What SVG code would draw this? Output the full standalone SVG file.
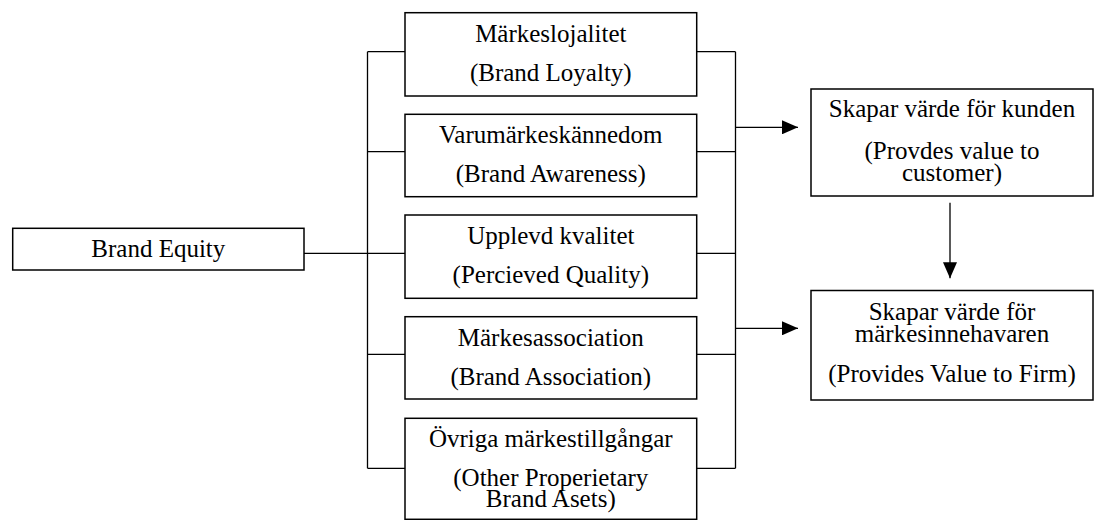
<svg xmlns="http://www.w3.org/2000/svg" width="1094" height="520" viewBox="0 0 1094 520">
  <defs>
    <style>
      .box { fill: #ffffff; stroke: #000000; stroke-width: 1.5; }
      .line { fill: none; stroke: #000000; stroke-width: 1.3; }
      .lbl { font-family: "Liberation Serif", "Times New Roman", serif; font-size: 25px; fill: #000000; text-anchor: middle; }
    </style>
    <marker id="arrow" viewBox="0 0 16 14" refX="16" refY="7" markerWidth="16" markerHeight="14" markerUnits="userSpaceOnUse" orient="auto">
      <path d="M0,0 L16,7 L0,14 Z" fill="#000000"/>
    </marker>
  </defs>
  <rect width="1094" height="520" fill="#ffffff"/>

  <!-- connectors -->
  <g id="connectors">
    <!-- root to left bracket -->
    <line class="line" x1="304" y1="253.3" x2="405" y2="253.3"/>
    <!-- left bracket -->
    <line class="line" x1="367.5" y1="51.7" x2="367.5" y2="468.3"/>
    <line class="line" x1="367.5" y1="51.7" x2="405" y2="51.7"/>
    <line class="line" x1="367.5" y1="151.7" x2="405" y2="151.7"/>
    <line class="line" x1="367.5" y1="354.3" x2="405" y2="354.3"/>
    <line class="line" x1="367.5" y1="468.3" x2="405" y2="468.3"/>
    <!-- right bracket -->
    <line class="line" x1="735.5" y1="51.7" x2="735.5" y2="468.3"/>
    <line class="line" x1="696.7" y1="51.7" x2="735.5" y2="51.7"/>
    <line class="line" x1="696.7" y1="151.7" x2="735.5" y2="151.7"/>
    <line class="line" x1="696.7" y1="253.3" x2="735.5" y2="253.3"/>
    <line class="line" x1="696.7" y1="354.3" x2="735.5" y2="354.3"/>
    <line class="line" x1="696.7" y1="468.3" x2="735.5" y2="468.3"/>
    <!-- arrows to value boxes -->
    <line class="line" x1="735.5" y1="127.3" x2="798" y2="127.3" marker-end="url(#arrow)"/>
    <line class="line" x1="735.5" y1="328.3" x2="798" y2="328.3" marker-end="url(#arrow)"/>
    <line class="line" x1="950" y1="202.7" x2="950" y2="278.3" marker-end="url(#arrow)"/>
  </g>

  <g id="brand-equity">
    <rect class="box" x="12.7" y="228.3" width="291.3" height="41.7"/>
    <text class="lbl" x="158.3" y="256.7">Brand Equity</text>
  </g>

  <g id="loyalty">
    <rect class="box" x="405" y="12.7" width="291.7" height="83.3"/>
    <text class="lbl" x="550.8" y="41.7">Märkeslojalitet</text>
    <text class="lbl" x="550.8" y="80.7">(Brand Loyalty)</text>
  </g>

  <g id="awareness">
    <rect class="box" x="405" y="114.3" width="291.7" height="82.4"/>
    <text class="lbl" x="550.8" y="143.3">Varumärkeskännedom</text>
    <text class="lbl" x="550.8" y="182.3">(Brand Awareness)</text>
  </g>

  <g id="quality">
    <rect class="box" x="405" y="215" width="291.7" height="83.3"/>
    <text class="lbl" x="550.8" y="244">Upplevd kvalitet</text>
    <text class="lbl" x="550.8" y="283">(Percieved Quality)</text>
  </g>

  <g id="association">
    <rect class="box" x="405" y="316.7" width="291.7" height="82.3"/>
    <text class="lbl" x="550.8" y="345.7">Märkesassociation</text>
    <text class="lbl" x="550.8" y="384.7">(Brand Association)</text>
  </g>

  <g id="other-assets">
    <rect class="box" x="405" y="418.3" width="291.7" height="101"/>
    <text class="lbl" x="550.8" y="446.7">Övriga märkestillgångar</text>
    <text class="lbl" x="550.8" y="486">(Other Properietary</text>
    <text class="lbl" x="550.8" y="507">Brand Asets)</text>
  </g>

  <g id="customer-value">
    <rect class="box" x="811" y="89" width="282" height="107"/>
    <text class="lbl" x="952" y="117.3">Skapar värde för kunden</text>
    <text class="lbl" x="952" y="158.5">(Provdes value to</text>
    <text class="lbl" x="952" y="180.5">customer)</text>
  </g>

  <g id="firm-value">
    <rect class="box" x="811" y="290.5" width="282" height="109.5"/>
    <text class="lbl" x="952" y="320">Skapar värde för</text>
    <text class="lbl" x="952" y="341.7">märkesinnehavaren</text>
    <text class="lbl" x="952" y="381.7">(Provides Value to Firm)</text>
  </g>
</svg>
